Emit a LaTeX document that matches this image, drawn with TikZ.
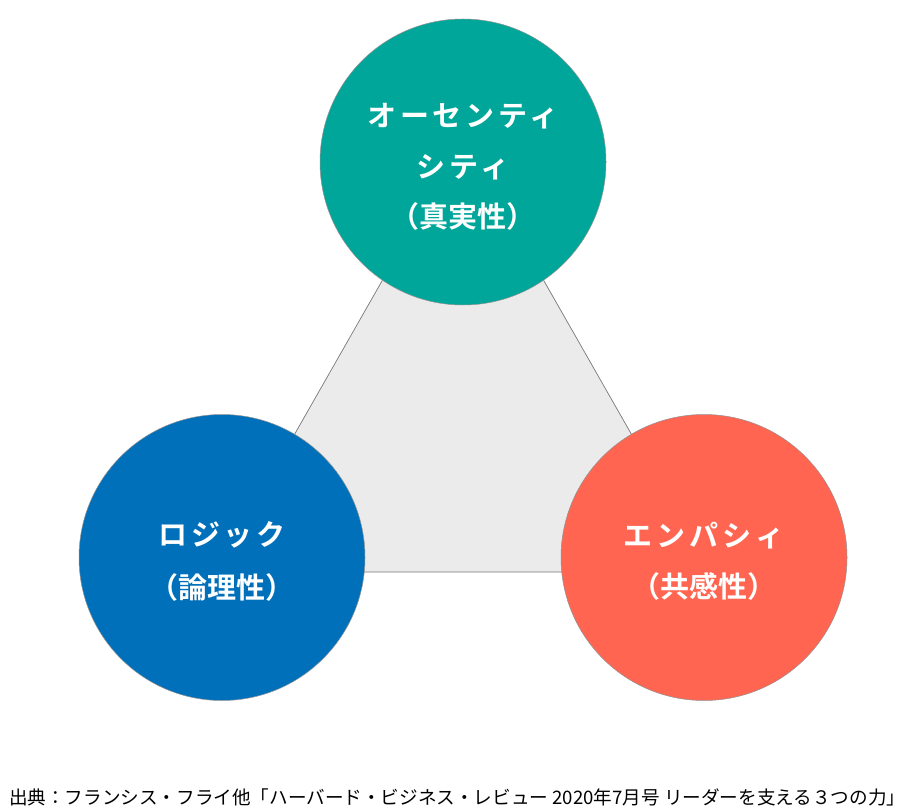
\documentclass[tikz,border=0pt]{standalone}
\usepackage{fontspec}
\newfontfamily\jpb[LetterSpace=13]{Noto Sans CJK JP Bold}
\newfontfamily\jpbk{Noto Sans CJK JP Bold}
\newfontfamily\jpr{Noto Sans CJK JP}
\definecolor{cteal}{RGB}{0,166,153}
\definecolor{cblue}{RGB}{0,112,186}
\definecolor{ccoral}{RGB}{255,101,80}
\definecolor{ctri}{RGB}{235,235,235}
\definecolor{cline}{RGB}{120,120,120}
\begin{document}
\begin{tikzpicture}[x=1pt,y=-1pt,
  bubble/.style={circle,minimum size=286pt,inner sep=0pt,draw=cline!80,line width=0.5pt},
  blabel/.style={text=white,align=center,inner sep=0pt}]
\useasboundingbox (0,0) rectangle (912,810);
\fill[white] (0,0) rectangle (912,810);
\coordinate (ta) at (463,139);
\coordinate (tl) at (216,572);
\coordinate (tr) at (710,572);
\filldraw[fill=ctri,draw=cline,line width=0.7pt] (ta) -- (tl) -- (tr) -- cycle;
\node[bubble,fill=cteal] (auth) at (463,162) {};
\node[bubble,fill=cblue] (logic) at (222,557.5) {};
\node[bubble,fill=ccoral] (emp) at (704,557.5) {};
\node[blabel,font=\fontsize{29}{50.5}\selectfont] (authT) at (463,167) {\jpb オーセンティ\\\jpb シティ\\\jpbk （真実性）};
\node[blabel,font=\fontsize{29}{53}\selectfont] (logicT) at (222,561) {\jpb ロジック\\\jpbk （論理性）};
\node[blabel,font=\fontsize{29}{51}\selectfont] (empT) at (704,561) {\jpb エンパシィ\\\jpbk （共感性）};
\node[anchor=west,inner sep=0pt] (src) at (9,797) {\resizebox{896pt}{!}{\jpr\fontsize{18}{20}\selectfont 出典：フランシス・フライ他「ハーバード・ビジネス・レビュー 2020年7月号 リーダーを支える３つの力」}};
\end{tikzpicture}
\end{document}
